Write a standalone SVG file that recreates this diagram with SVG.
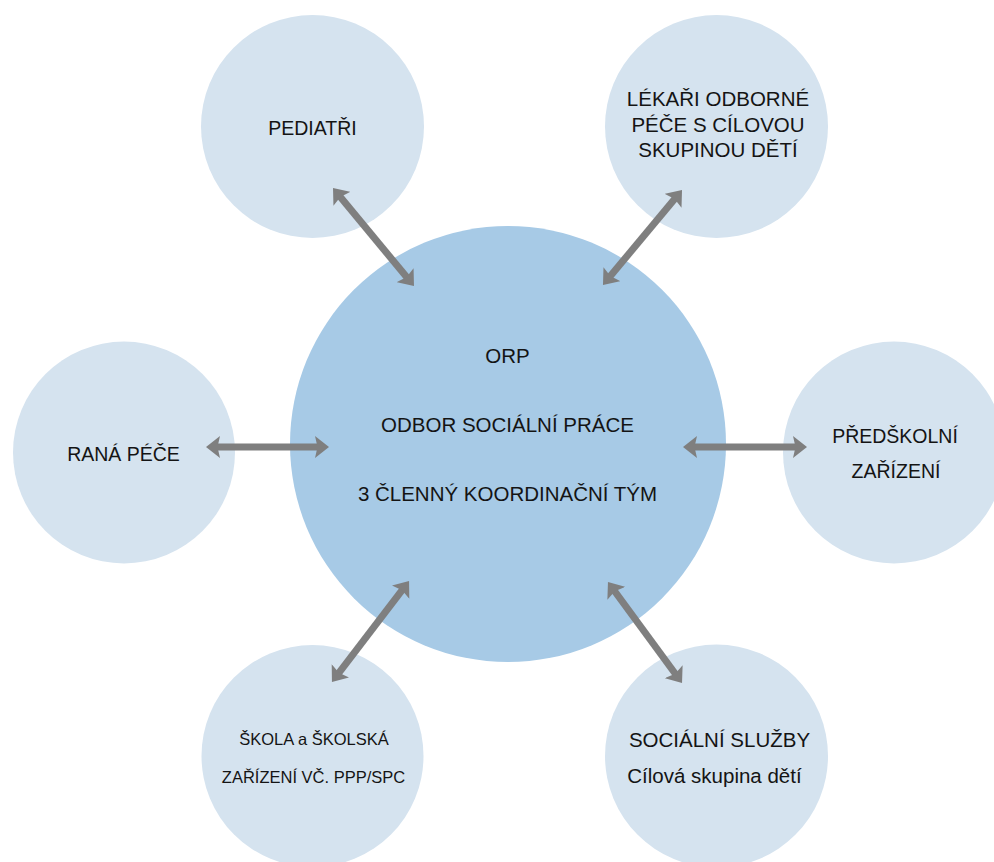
<svg xmlns="http://www.w3.org/2000/svg" width="994" height="862" viewBox="0 0 994 862">
  <style>
    .sat { fill: #D5E3EF; }
    .hub { fill: #A7CAE6; }
    text { font-family: "Liberation Sans", Arial, sans-serif; fill: #141414; text-anchor: middle; }
    .big { font-size: 20.5px; }
    .mid { font-size: 19.5px; }
    .sm { font-size: 16.5px; }
    .conn { stroke: #7F7F7F; stroke-width: 7; fill: none; marker-start: url(#ah); marker-end: url(#ah); }
  </style>
  <defs>
    <marker id="ah" viewBox="0 0 14 22" refX="6" refY="11" markerWidth="14" markerHeight="22" markerUnits="userSpaceOnUse" orient="auto-start-reverse">
      <path d="M0,0 L14,11 L0,22 L2.5,11 Z" fill="#7F7F7F"/>
    </marker>
  </defs>
  <rect width="994" height="862" fill="#FFFFFF"/>

  <g id="pediatri">
    <circle class="sat" cx="312.5" cy="126.5" r="111.5"/>
    <text class="mid" x="312.5" y="135">PEDIATŘI</text>
  </g>
  <g id="lekari">
    <circle class="sat" cx="716.5" cy="126.5" r="111.5"/>
    <text class="big" x="718" y="106">LÉKAŘI ODBORNÉ</text>
    <text class="big" x="718" y="132">PÉČE S CÍLOVOU</text>
    <text class="big" x="718" y="157">SKUPINOU DĚTÍ</text>
  </g>
  <g id="rana-pece">
    <circle class="sat" cx="124" cy="452.5" r="111"/>
    <text class="mid" x="123.5" y="461">RANÁ PÉČE</text>
  </g>
  <g id="predskolni">
    <circle class="sat" cx="894" cy="452.5" r="111"/>
    <text class="mid" x="895" y="443">PŘEDŠKOLNÍ</text>
    <text class="mid" x="896" y="478">ZAŘÍZENÍ</text>
  </g>
  <g id="skola">
    <circle class="sat" cx="312.5" cy="756" r="111"/>
    <text class="sm" x="314" y="745">ŠKOLA a ŠKOLSKÁ</text>
    <text class="sm" x="313.5" y="783">ZAŘÍZENÍ VČ. PPP/SPC</text>
  </g>
  <g id="socialni-sluzby">
    <circle class="sat" cx="716.5" cy="756" r="111.5"/>
    <text class="big" x="719.5" y="747">SOCIÁLNÍ SLUŽBY</text>
    <text class="big" x="714.5" y="783">Cílová skupina dětí</text>
  </g>
  <g id="orp">
    <circle class="hub" cx="508" cy="444" r="218"/>
    <text class="big" x="507.5" y="363">ORP</text>
    <text class="big" x="507.5" y="432">ODBOR SOCIÁLNÍ PRÁCE</text>
    <text class="big" x="507.5" y="501">3 ČLENNÝ KOORDINAČNÍ TÝM</text>
  </g>

  <g id="connectors">
    <line class="conn" x1="338.1" y1="194.2" x2="408.9" y2="279.8"/>
    <line class="conn" x1="676.9" y1="196.2" x2="608.1" y2="278.8"/>
    <line class="conn" x1="214" y1="447" x2="321" y2="447"/>
    <line class="conn" x1="691" y1="447" x2="799" y2="447"/>
    <line class="conn" x1="404.2" y1="587.4" x2="336.8" y2="675.6"/>
    <line class="conn" x1="612.7" y1="588.5" x2="677.3" y2="676.5"/>
  </g>
</svg>
